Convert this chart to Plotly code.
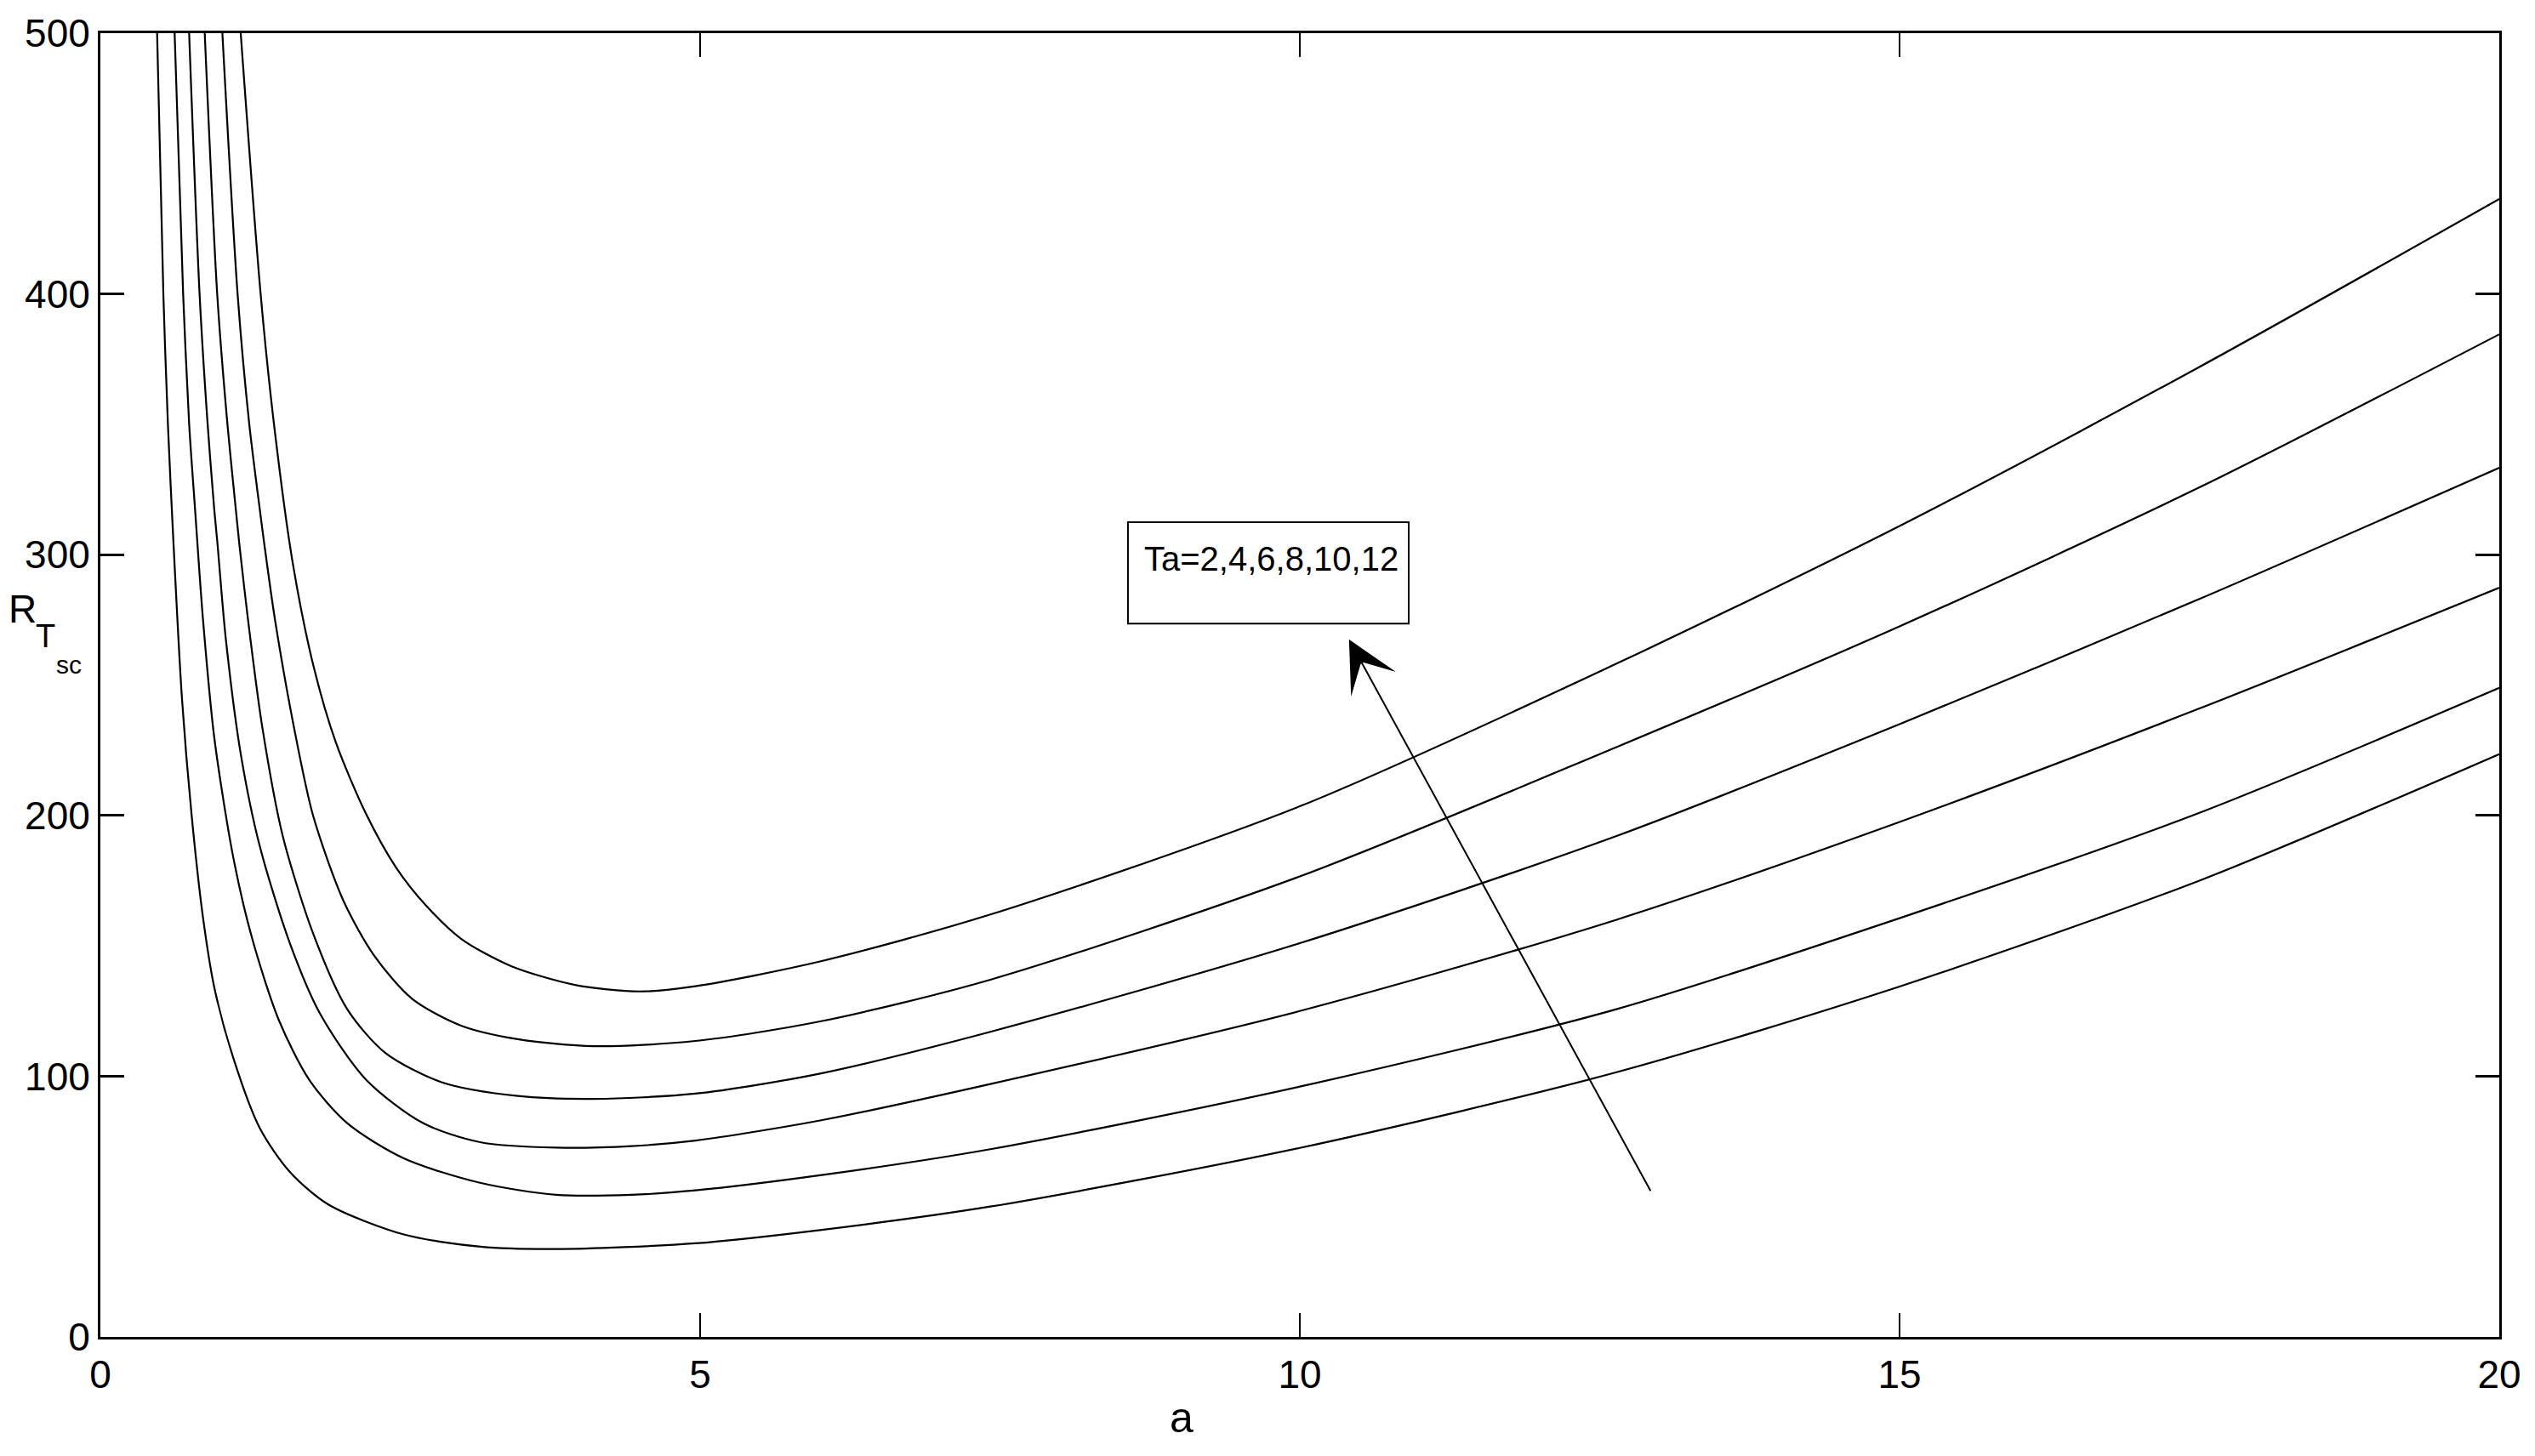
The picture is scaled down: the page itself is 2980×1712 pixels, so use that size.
import plotly.graph_objects as go

# ---- data ----
a_ta2 = [0.473, 0.525, 0.563, 0.61, 0.68, 0.76, 0.855, 0.95, 1.108, 1.33, 1.58, 1.90, 2.53, 3.17, 3.80, 4.96, 6.0, 7.42, 10.0, 12.64, 15.0, 17.5, 20.0]
r_ta2 = [500, 400, 350, 304, 245, 200.5, 161, 134, 107, 80, 63.3, 50.8, 39.3, 34.6, 33.7, 35.9, 41, 50, 72.5, 101.5, 134.4, 175, 223.5]

a_ta4 = [0.619, 0.690, 0.740, 0.79, 0.855, 0.95, 1.108, 1.266, 1.488, 1.741, 2.058, 2.53, 3.166, 3.8, 4.43, 4.96, 6.0, 7.42, 10.0, 12.64, 15.0, 17.5, 20.0]
r_ta4 = [500, 400, 350.2, 317, 275.4, 229.7, 183.9, 152.7, 121.5, 98.6, 82, 68.5, 59.1, 54.5, 54.5, 56.2, 62, 72, 96, 125.7, 160.6, 201, 248.9]

a_ta6 = [0.740, 0.827, 0.894, 0.95, 0.976, 1.045, 1.171, 1.33, 1.583, 1.836, 2.216, 2.69, 3.166, 3.8, 4.43, 4.96, 6.0, 7.42, 10.0, 12.64, 15.0, 17.5, 20.0]
r_ta6 = [500, 400, 350.2, 317, 304.3, 268, 223.4, 188, 150.6, 123.6, 98.6, 82, 74.7, 72.6, 73.2, 75.3, 83, 97, 125, 160, 197.5, 241, 287.3]

a_ta8 = [0.870, 0.974, 1.059, 1.13, 1.158, 1.23, 1.35, 1.52, 1.773, 2.058, 2.374, 2.85, 3.48, 4.115, 4.96, 6.0, 7.42, 10.0, 12.64, 15.0, 17.5, 20.0]
r_ta8 = [500, 400, 350.2, 317, 304.3, 275.4, 233.8, 192.2, 154.8, 125.7, 109, 97.6, 92.4, 91.3, 93.3, 101, 117, 151, 192.1, 235, 283, 333.3]

a_ta10 = [1.017, 1.144, 1.241, 1.33, 1.366, 1.456, 1.614, 1.773, 2.026, 2.28, 2.596, 3.007, 3.48, 4.115, 4.96, 6.0, 7.42, 10.0, 12.64, 15.0, 17.5, 20.0]
r_ta10 = [500, 400, 350.2, 317, 304.3, 275, 233.8, 200, 167.3, 146.4, 129.8, 119.4, 114.2, 111.5, 113.5, 121, 137, 176.6, 226.2, 272.5, 325.8, 384.5]

a_ta12 = [1.170, 1.336, 1.447, 1.603, 1.773, 1.963, 2.216, 2.47, 2.72, 3.007, 3.42, 3.957, 4.495, 4.96, 6.0, 7.42, 10.0, 12.64, 15.0, 17.5, 20.0]
r_ta12 = [500, 400, 350.2, 297, 258, 228, 200.5, 179.7, 165.2, 152.7, 142.3, 135, 132.5, 134.5, 144, 162, 203.5, 258.2, 311, 372, 436.4]

curves = [(a_ta2, r_ta2), (a_ta4, r_ta4), (a_ta6, r_ta6), (a_ta8, r_ta8), (a_ta10, r_ta10), (a_ta12, r_ta12)]

x_ticks = [0, 5, 10, 15, 20]
y_ticks = [0, 100, 200, 300, 400, 500]
box_text = "Ta=2,4,6,8,10,12"

FONT = "Liberation Sans Narrow, Arial Narrow, Liberation Sans, Arial, sans-serif"

W, H = 2980, 1712
L, R, T, B = 118, 42, 39, 140
PW, PH = W - L - R, H - T - B


def px(xp):
    return (xp - L) / PW


def py(yp):
    return (H - B - yp) / PH


fig = go.Figure()
for xs, ys in curves:
    fig.add_trace(go.Scatter(x=xs, y=ys, mode="lines",
                             line=dict(color="black", width=2.2, shape="spline", smoothing=0.8),
                             hoverinfo="skip", showlegend=False))

axis_common = dict(showgrid=False, zeroline=False, showline=True, linecolor="black",
                   linewidth=3, mirror="ticks", ticks="inside", ticklen=28,
                   tickcolor="black", tickfont=dict(family=FONT, size=46, color="black"))

fig.update_xaxes(range=[0, 20], tickvals=x_ticks, ticktext=[str(v) for v in x_ticks],
                 tickwidth=1.5, ticklabelstandoff=2, **axis_common)
fig.update_yaxes(range=[0, 500], tickvals=y_ticks, ticktext=[str(v) for v in y_ticks],
                 tickwidth=2.5, ticklabelstandoff=0, **axis_common)

# text box
fig.add_shape(type="rect", xref="x", yref="y", x0=8.567, x1=10.908, y0=273.6, y1=312.5,
              line=dict(color="black", width=2), fillcolor="white", layer="above")
fig.add_annotation(x=8.69, y=298.5, xref="x", yref="y", text=box_text, showarrow=False,
                   xanchor="left", yanchor="middle",
                   font=dict(family=FONT, size=40, color="black"))

# arrow
fig.add_annotation(x=10.41, y=267.5, ax=12.93, ay=55.5, xref="x", yref="y",
                   axref="x", ayref="y", text="", showarrow=True, arrowhead=3,
                   arrowsize=5, arrowwidth=2, arrowcolor="black", standoff=0)

# axis titles
fig.add_annotation(x=px(1389), y=py(1667), xref="paper", yref="paper", text="a",
                   showarrow=False, xanchor="center", yanchor="middle",
                   font=dict(family=FONT, size=50, color="black"))
fig.add_annotation(x=px(8), y=py(716), xref="paper", yref="paper", text="R",
                   showarrow=False, xanchor="left", yanchor="middle",
                   font=dict(family=FONT, size=46, color="black"))
fig.add_annotation(x=px(40), y=py(748), xref="paper", yref="paper", text="T",
                   showarrow=False, xanchor="left", yanchor="middle",
                   font=dict(family=FONT, size=38, color="black"))
fig.add_annotation(x=px(64), y=py(781), xref="paper", yref="paper", text="sc",
                   showarrow=False, xanchor="left", yanchor="middle",
                   font=dict(family=FONT, size=30, color="black"))

fig.update_layout(width=W, height=H, margin=dict(l=L, r=R, t=T, b=B, pad=0),
                  plot_bgcolor="white", paper_bgcolor="white", showlegend=False)

fig.write_html("out.html", config={"displayModeBar": False},
               post_script="document.body.style.margin='0';")
